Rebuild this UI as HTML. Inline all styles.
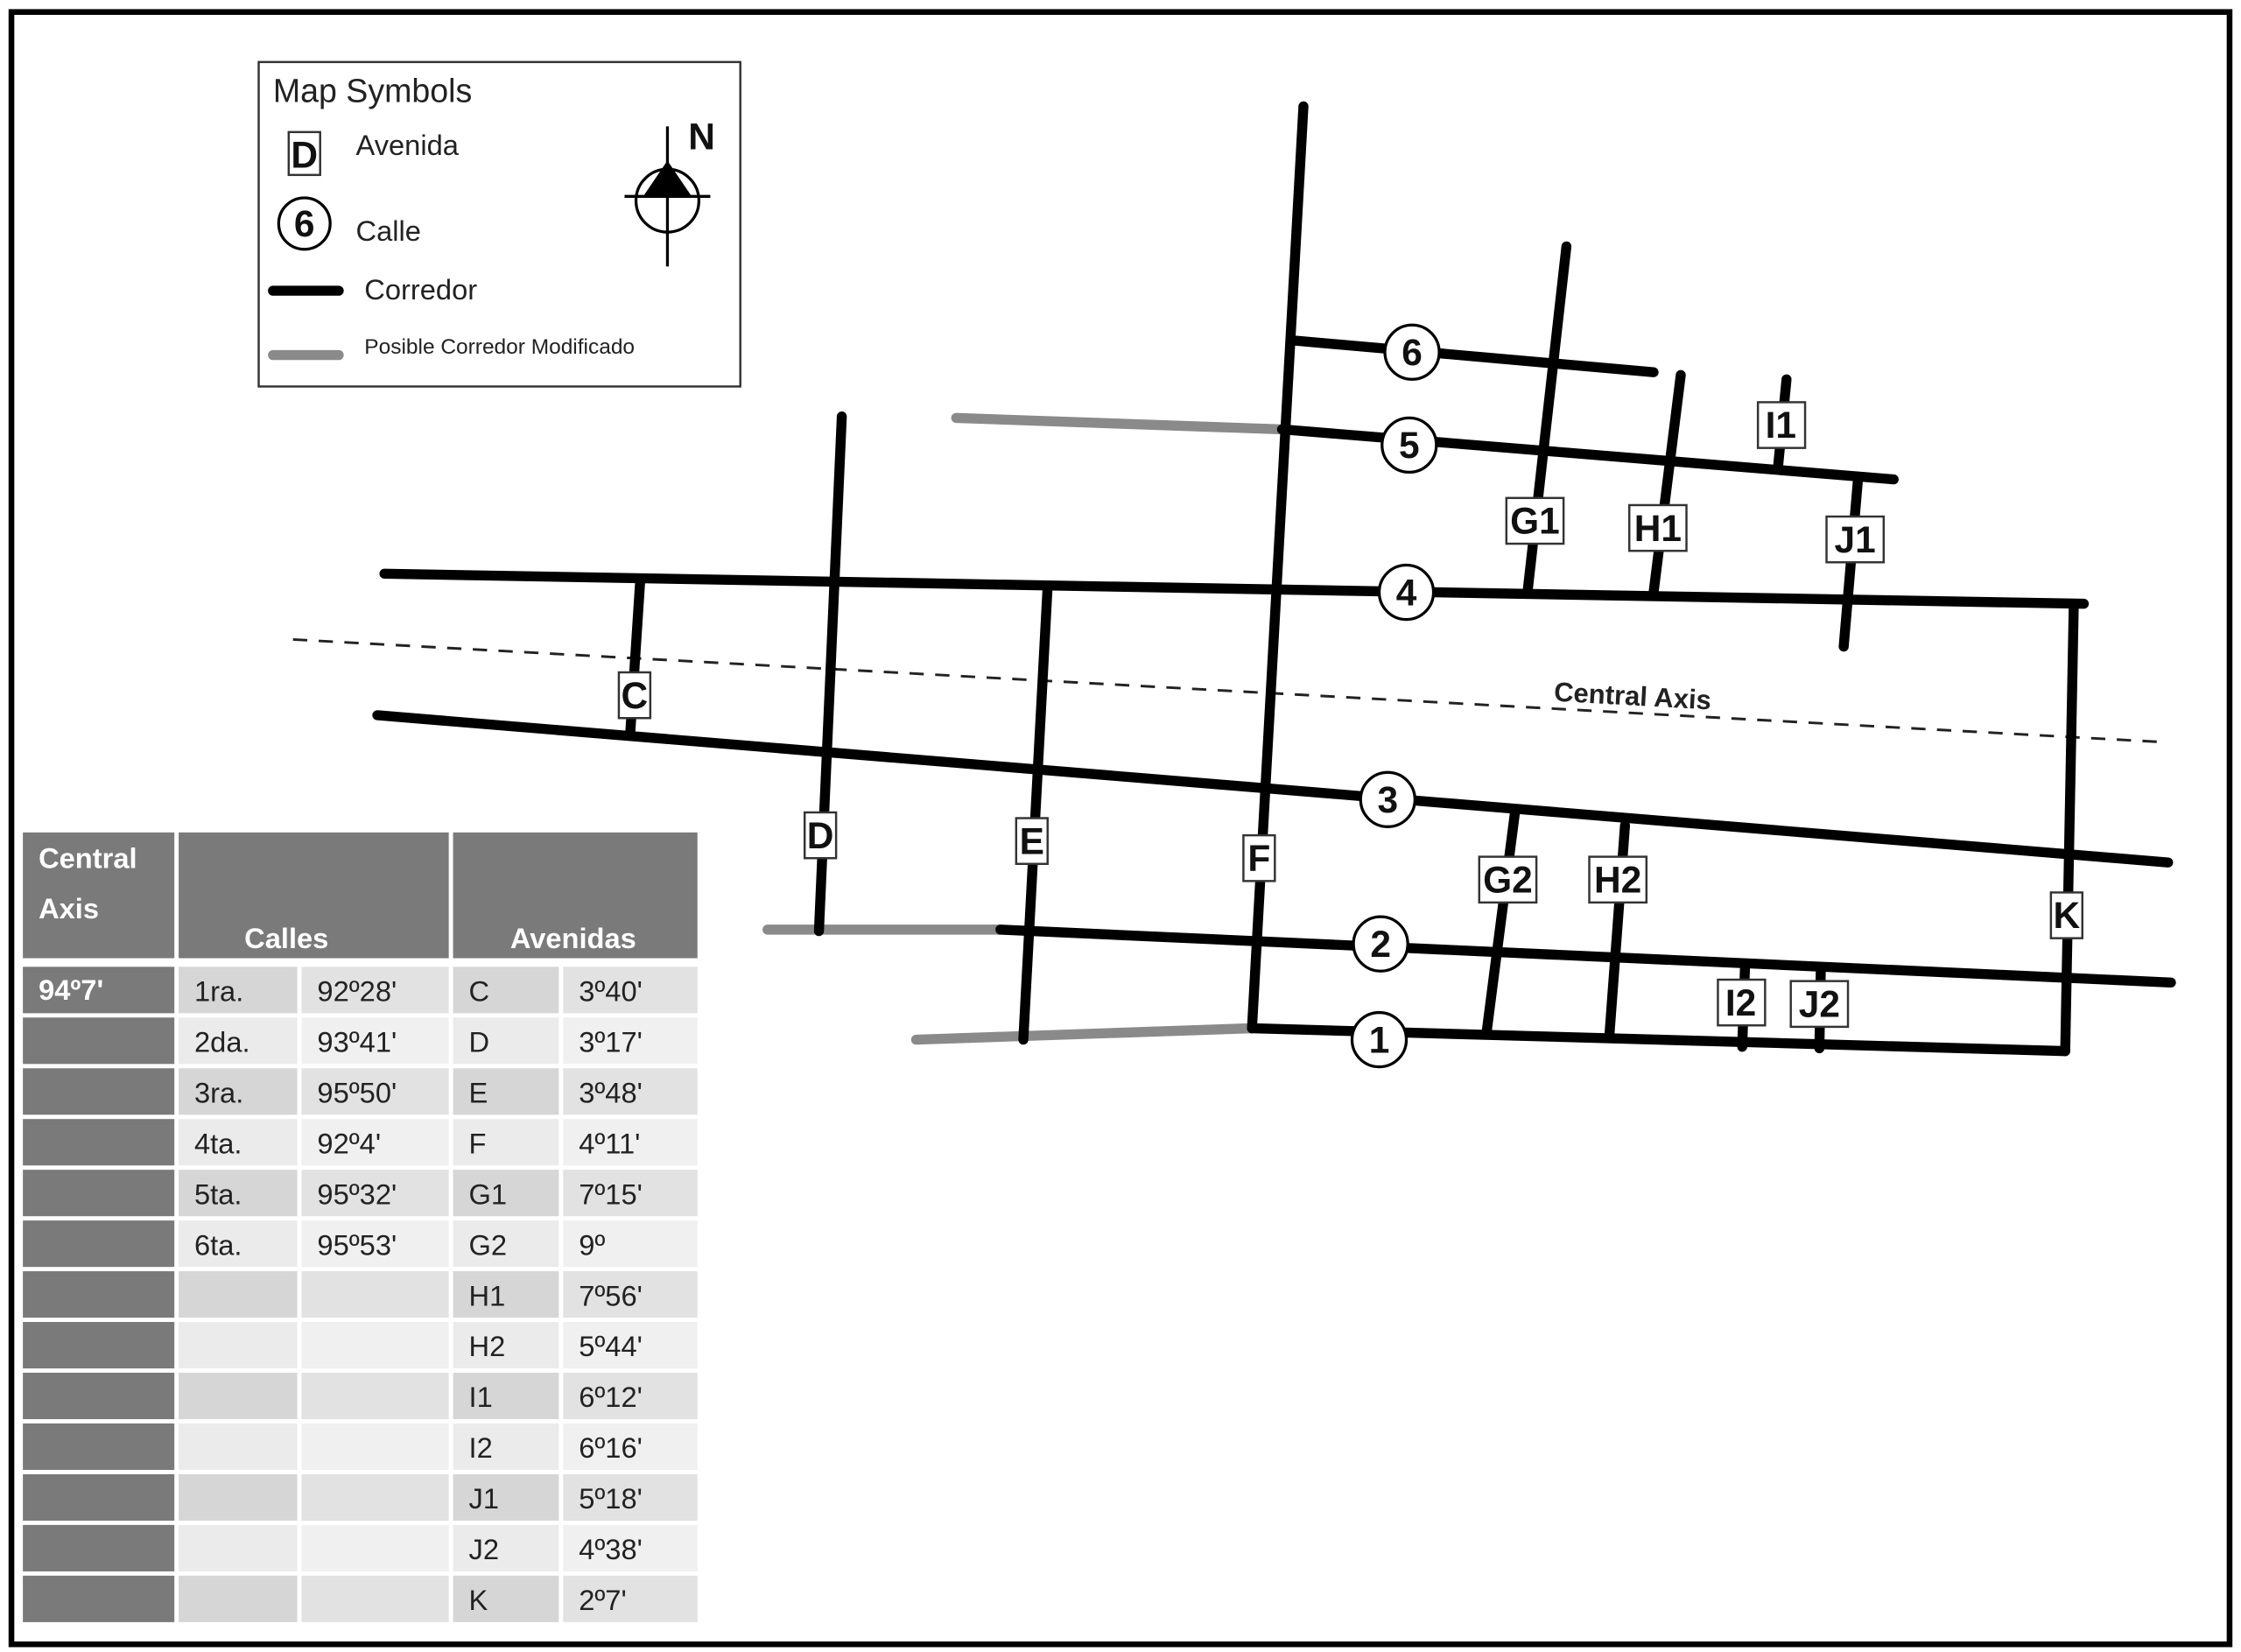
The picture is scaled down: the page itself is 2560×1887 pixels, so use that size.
<!DOCTYPE html>
<html><head><meta charset="utf-8"><style>
html,body{margin:0;padding:0;background:#fff;}
svg{display:block;}
.l{stroke:#000;stroke-width:7;stroke-linecap:round;fill:none;}
.g{stroke:#8a8a8a;stroke-width:7;stroke-linecap:round;fill:none;}
.sq{fill:#fff;stroke:#333;stroke-width:1.5;}
.ct{fill:#fff;stroke:#000;stroke-width:2;}
.lb{font-family:"Liberation Sans",sans-serif;font-weight:bold;font-size:26px;fill:#111;text-anchor:middle;}
.tt{font-family:"Liberation Sans",sans-serif;font-size:20px;fill:#222;}
.th{font-family:"Liberation Sans",sans-serif;font-weight:bold;font-size:20px;fill:#fff;}
.d{fill:#7a7a7a}.a1{fill:#d6d6d6}.a2{fill:#e2e2e2}.b1{fill:#ebebeb}.b2{fill:#f0f0f0}
</style></head><body>
<svg width="2560" height="1887" viewBox="0 0 1568 1155" xmlns="http://www.w3.org/2000/svg">
<defs>
<g id="ra"><rect x="16" width="106" height="32.5" class="d"/><rect x="125" width="83" height="32.5" class="a1"/><rect x="211" width="103" height="32.5" class="a2"/><rect x="317" width="74" height="32.5" class="a1"/><rect x="394" width="94" height="32.5" class="a2"/></g>
<g id="rb"><rect x="16" width="106" height="32.5" class="d"/><rect x="125" width="83" height="32.5" class="b1"/><rect x="211" width="103" height="32.5" class="b2"/><rect x="317" width="74" height="32.5" class="b1"/><rect x="394" width="94" height="32.5" class="b2"/></g>
</defs>
<rect x="0" y="0" width="1568" height="1155" fill="#fff"/>
<rect x="8" y="8" width="1552" height="1142" fill="none" stroke="#000" stroke-width="4"/>

<!-- legend -->
<rect x="181" y="43" width="337" height="227" fill="#fff" stroke="#333" stroke-width="1.5"/>
<text x="191" y="71" font-family="Liberation Sans,sans-serif" font-size="23" fill="#222">Map Symbols</text>
<rect x="202" y="92" width="22" height="30" class="sq"/>
<text x="213" y="117" class="lb" font-size="24">D</text>
<text x="249" y="108" font-family="Liberation Sans,sans-serif" font-size="20" fill="#222">Avenida</text>
<circle cx="213" cy="156" r="18" class="ct"/>
<text x="213" y="165" class="lb" font-size="24">6</text>
<text x="249" y="168" font-family="Liberation Sans,sans-serif" font-size="20" fill="#222">Calle</text>
<line x1="191" y1="203" x2="237" y2="203" class="l"/>
<text x="255" y="209" font-family="Liberation Sans,sans-serif" font-size="20" fill="#222">Corredor</text>
<line x1="191" y1="248" x2="237" y2="248" class="g"/>
<text x="255" y="247" font-family="Liberation Sans,sans-serif" font-size="15" fill="#222">Posible Corredor Modificado</text>
<circle cx="467" cy="140" r="22" fill="none" stroke="#000" stroke-width="2"/>
<line x1="467" y1="88" x2="467" y2="186" stroke="#000" stroke-width="2"/>
<line x1="437" y1="137" x2="497" y2="137" stroke="#000" stroke-width="2"/>
<polygon points="467,112 450,137 484,137" fill="#000"/>
<text x="491" y="104" class="lb" font-size="30" fill="#000">N</text>

<line x1="669" y1="292" x2="897" y2="300" class="g"/>
<line x1="537" y1="650" x2="700" y2="650" class="g"/>
<line x1="641" y1="727" x2="876" y2="719" class="g"/>

<line x1="205" y1="447" x2="1517" y2="519" stroke="#222" stroke-width="1.8" stroke-dasharray="10,8"/>
<text x="1142" y="493" font-family="Liberation Sans,sans-serif" font-weight="bold" font-size="19" fill="#222" text-anchor="middle" transform="rotate(3.1 1142 493)">Central Axis</text>

<line x1="907" y1="238" x2="1157" y2="260" class="l"/>
<line x1="897" y1="300" x2="1325" y2="335" class="l"/>
<line x1="269" y1="401" x2="1458" y2="422" class="l"/>
<line x1="264" y1="500" x2="1517" y2="603" class="l"/>
<line x1="700" y1="650" x2="1519" y2="687" class="l"/>
<line x1="876" y1="719" x2="1445" y2="735" class="l"/>
<line x1="912" y1="74" x2="876" y2="719" class="l"/>
<line x1="589" y1="291" x2="573" y2="651" class="l"/>
<line x1="448" y1="405" x2="441" y2="512" class="l"/>
<line x1="733" y1="410" x2="716" y2="727" class="l"/>
<line x1="1096" y1="172" x2="1069" y2="412" class="l"/>
<line x1="1176" y1="262" x2="1157" y2="414" class="l"/>
<line x1="1250" y1="265" x2="1244" y2="327" class="l"/>
<line x1="1300" y1="335" x2="1290" y2="452" class="l"/>
<line x1="1451" y1="422" x2="1445" y2="735" class="l"/>
<line x1="1060" y1="568" x2="1040" y2="723" class="l"/>
<line x1="1137" y1="577" x2="1126" y2="725" class="l"/>
<line x1="1221" y1="675" x2="1219" y2="732" class="l"/>
<line x1="1274" y1="677" x2="1273" y2="733" class="l"/>

<circle cx="988" cy="246" r="19" class="ct"/><text x="988" y="255" class="lb">6</text>
<circle cx="986" cy="311" r="19" class="ct"/><text x="986" y="320" class="lb">5</text>
<circle cx="984" cy="414" r="19" class="ct"/><text x="984" y="423" class="lb">4</text>
<circle cx="971" cy="559" r="19" class="ct"/><text x="971" y="568" class="lb">3</text>
<circle cx="966" cy="660" r="19" class="ct"/><text x="966" y="669" class="lb">2</text>
<circle cx="965" cy="727" r="19" class="ct"/><text x="965" y="736" class="lb">1</text>

<rect x="433" y="470" width="22" height="32" class="sq"/><text x="444" y="495" class="lb">C</text>
<rect x="563" y="568" width="22" height="32" class="sq"/><text x="574" y="593" class="lb">D</text>
<rect x="711" y="572" width="22" height="32" class="sq"/><text x="722" y="597" class="lb">E</text>
<rect x="870" y="584" width="22" height="32" class="sq"/><text x="881" y="609" class="lb">F</text>
<rect x="1054" y="348" width="40" height="32" class="sq"/><text x="1074" y="373" class="lb">G1</text>
<rect x="1140" y="353" width="40" height="32" class="sq"/><text x="1160" y="378" class="lb">H1</text>
<rect x="1230" y="281" width="33" height="32" class="sq"/><text x="1246" y="306" class="lb">I1</text>
<rect x="1278" y="361" width="40" height="32" class="sq"/><text x="1298" y="386" class="lb">J1</text>
<rect x="1035" y="599" width="40" height="32" class="sq"/><text x="1055" y="624" class="lb">G2</text>
<rect x="1112" y="599" width="40" height="32" class="sq"/><text x="1132" y="624" class="lb">H2</text>
<rect x="1202" y="685" width="33" height="32" class="sq"/><text x="1218" y="710" class="lb">I2</text>
<rect x="1253" y="686" width="40" height="32" class="sq"/><text x="1273" y="711" class="lb">J2</text>
<rect x="1435" y="624" width="22" height="32" class="sq"/><text x="1446" y="649" class="lb">K</text>

<!-- table -->
<rect x="16" y="582" width="106" height="88" fill="#7a7a7a"/>
<rect x="125" y="582" width="189" height="88" fill="#7a7a7a"/>
<rect x="317" y="582" width="171" height="88" fill="#7a7a7a"/>
<text x="27" y="607" class="th">Central</text>
<text x="27" y="642" class="th">Axis</text>
<text x="171" y="663" class="th">Calles</text>
<text x="357" y="663" class="th">Avenidas</text>

<use href="#ra" y="676"/><use href="#rb" y="711.5"/><use href="#ra" y="747"/><use href="#rb" y="782.5"/><use href="#ra" y="818"/><use href="#rb" y="853.5"/><use href="#ra" y="889"/><use href="#rb" y="924.5"/><use href="#ra" y="960"/><use href="#rb" y="995.5"/><use href="#ra" y="1031"/><use href="#rb" y="1066.5"/><use href="#ra" y="1102"/>

<text x="27" y="699" class="th">94º7'</text>
<g class="tt">
<text x="136" y="700" class="tt">1ra.</text><text x="222" y="700" class="tt">92º28'</text><text x="328" y="700" class="tt">C</text><text x="405" y="700" class="tt">3º40'</text>
<text x="136" y="735.5" class="tt">2da.</text><text x="222" y="735.5" class="tt">93º41'</text><text x="328" y="735.5" class="tt">D</text><text x="405" y="735.5" class="tt">3º17'</text>
<text x="136" y="771" class="tt">3ra.</text><text x="222" y="771" class="tt">95º50'</text><text x="328" y="771" class="tt">E</text><text x="405" y="771" class="tt">3º48'</text>
<text x="136" y="806.5" class="tt">4ta.</text><text x="222" y="806.5" class="tt">92º4'</text><text x="328" y="806.5" class="tt">F</text><text x="405" y="806.5" class="tt">4º11'</text>
<text x="136" y="842" class="tt">5ta.</text><text x="222" y="842" class="tt">95º32'</text><text x="328" y="842" class="tt">G1</text><text x="405" y="842" class="tt">7º15'</text>
<text x="136" y="877.5" class="tt">6ta.</text><text x="222" y="877.5" class="tt">95º53'</text><text x="328" y="877.5" class="tt">G2</text><text x="405" y="877.5" class="tt">9º</text>
<text x="328" y="913" class="tt">H1</text><text x="405" y="913" class="tt">7º56'</text>
<text x="328" y="948.5" class="tt">H2</text><text x="405" y="948.5" class="tt">5º44'</text>
<text x="328" y="984" class="tt">I1</text><text x="405" y="984" class="tt">6º12'</text>
<text x="328" y="1019.5" class="tt">I2</text><text x="405" y="1019.5" class="tt">6º16'</text>
<text x="328" y="1055" class="tt">J1</text><text x="405" y="1055" class="tt">5º18'</text>
<text x="328" y="1090.5" class="tt">J2</text><text x="405" y="1090.5" class="tt">4º38'</text>
<text x="328" y="1126" class="tt">K</text><text x="405" y="1126" class="tt">2º7'</text>
</g>
</svg>
</body></html>
